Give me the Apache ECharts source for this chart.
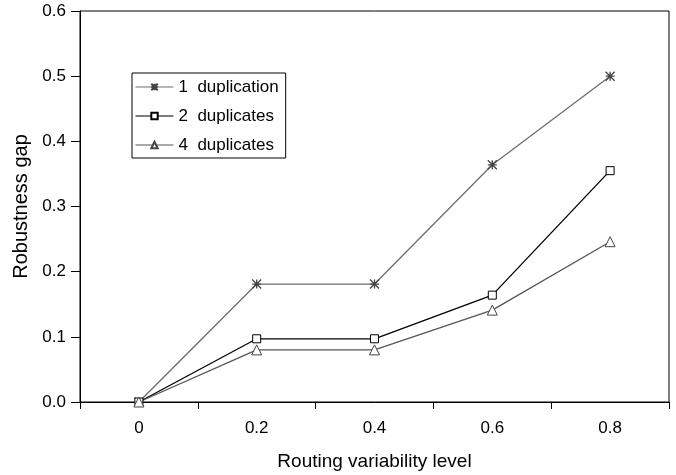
<!DOCTYPE html>
<html>
<head>
<meta charset="utf-8">
<style>
  html, body { margin: 0; padding: 0; background: #fff; }
  #chart { width: 676px; height: 475px; }
</style>
<script src="https://cdn.jsdelivr.net/npm/echarts@6/dist/echarts.min.js"></script>
</head>
<body>
<div id="chart"></div>
<script>
// routing variability levels (x categories)
var levels = ['0', '0.2', '0.4', '0.6', '0.8'];
// robustness gap per series
var dup1 = [0, 0.181, 0.181, 0.364, 0.5];
var dup2 = [0, 0.097, 0.097, 0.164, 0.355];
var dup4 = [0, 0.080, 0.080, 0.141, 0.246];
var yTicks = [0, 0.1, 0.2, 0.3, 0.4, 0.5, 0.6];
var seriesNames = ['1  duplication', '2  duplicates', '4  duplicates'];

var font = '"Liberation Sans", Arial, sans-serif';
var asterisk = 'path://M0,0 L10,10 M10,0 L0,10 M5,0 L5,10 M0,5 L10,5';

var chart = echarts.init(document.getElementById('chart'));
chart.setOption({
  animation: false,
  backgroundColor: '#fff',
  textStyle: { fontFamily: font, color: '#000' },
  grid: {
    left: 80, right: 7, top: 11, bottom: 73,
    outerBoundsMode: 'none',
    containLabel: false,
    show: true, borderColor: '#000', borderWidth: 1
  },
  legend: {
    orient: 'vertical',
    left: 132, top: 73,
    backgroundColor: '#fff',
    borderColor: '#000',
    borderWidth: 1,
    padding: [5, 7, 4, 3],
    itemWidth: 38, itemHeight: 8,
    itemGap: 11,
    lineStyle: { width: 1 },
    textStyle: { fontFamily: font, fontSize: 17, color: '#000', lineHeight: 18 },
    data: seriesNames
  },
  xAxis: {
    type: 'category',
    data: levels,
    boundaryGap: true,
    name: 'Routing variability level',
    nameLocation: 'middle',
    nameGap: 50,
    nameTextStyle: { fontSize: 19, color: '#000' },
    axisLine: { lineStyle: { color: '#000', width: 1 } },
    axisTick: { show: true, length: 7, interval: 0, lineStyle: { color: '#000' } },
    axisLabel: { fontSize: 17, color: '#000', margin: 18 },
    splitLine: { show: false }
  },
  yAxis: {
    type: 'value',
    min: yTicks[0], max: yTicks[yTicks.length - 1], interval: 0.1,
    name: 'Robustness gap',
    nameLocation: 'middle',
    nameGap: 47,
    nameTextStyle: { fontSize: 20, color: '#000' },
    axisLine: { show: true, lineStyle: { color: '#000', width: 1 } },
    axisTick: { show: true, length: 9, lineStyle: { color: '#000' } },
    axisLabel: {
      fontSize: 17, color: '#000', margin: 14,
      formatter: function (v) { return v.toFixed(1); }
    },
    splitLine: { show: false }
  },
  series: [
    {
      name: seriesNames[0],
      type: 'line',
      data: dup1,
      symbol: asterisk,
      symbolSize: 9,
      lineStyle: { color: '#6e6e6e', width: 1.3 },
      itemStyle: { color: 'transparent', borderColor: '#444', borderWidth: 1.3 }
    },
    {
      name: seriesNames[1],
      type: 'line',
      data: dup2,
      symbol: 'rect',
      symbolSize: 8,
      lineStyle: { color: '#000', width: 1.3 },
      itemStyle: { color: '#fff', borderColor: '#000', borderWidth: 1 }
    },
    {
      name: seriesNames[2],
      type: 'line',
      data: dup4,
      symbol: 'triangle',
      symbolSize: 10,
      lineStyle: { color: '#555', width: 1.3 },
      itemStyle: { color: '#fff', borderColor: '#444', borderWidth: 1 }
    }
  ]
});
</script>
</body>
</html>
